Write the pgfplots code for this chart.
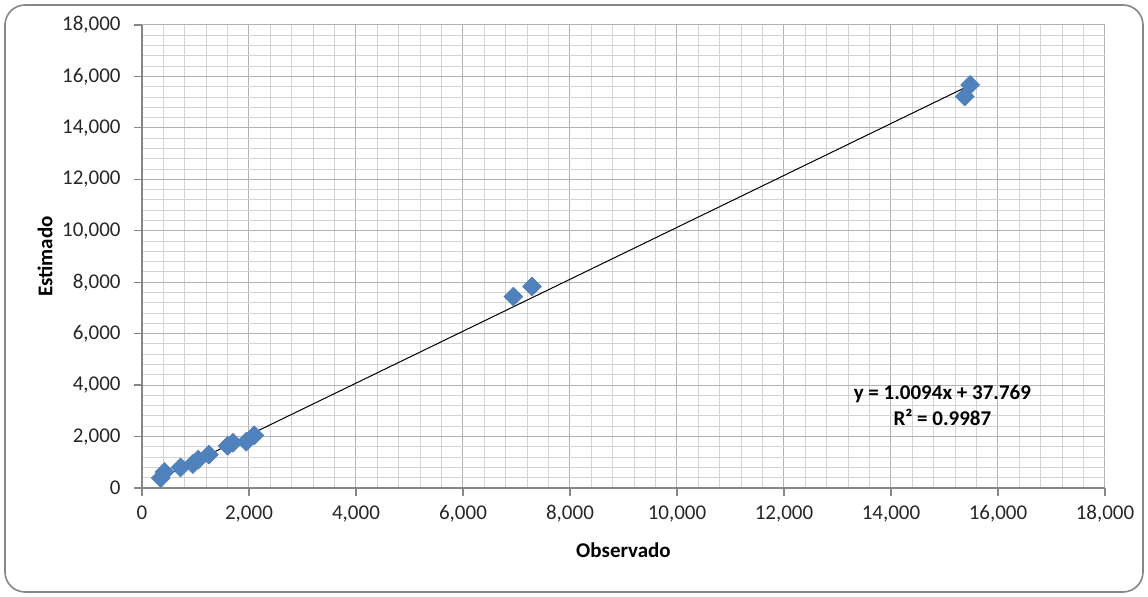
\documentclass[border=0pt]{standalone}
\usepackage{fontspec}
\setmainfont{Carlito}
\usepackage{pgfplots}
\pgfplotsset{compat=1.18}
\definecolor{mk}{RGB}{79,129,189}
\definecolor{frame}{RGB}{134,134,134}
\begin{document}
\fontsize{10.5pt}{12.6pt}\selectfont
\begin{tikzpicture}
\path[use as bounding box] (-71pt,-54.5pt) rectangle (503pt,244pt);
\draw[frame, line width=0.8pt, rounded corners=10pt] (-68.5pt,-52pt) rectangle (500.5pt,241.5pt);
\begin{axis}[
  at={(0,0)}, anchor=south west,
  scale only axis, width=481.5pt, height=231.5pt,
  xmin=0, xmax=18000, ymin=0, ymax=18000,
  xtick={0,2000,...,18000}, ytick={0,2000,...,18000},
  minor tick num=4,
  grid=both,
  major grid style={draw=gray!60, line width=0.5pt},
  minor grid style={draw=gray!35, line width=0.5pt},
  axis x line*=bottom, axis y line*=left,
  axis line style={draw=frame, line width=0.6pt},
  tick align=outside, major tick length=4pt, minor tick length=0pt,
  tick style={draw=frame, line width=0.6pt},
  scaled ticks=false,
  /pgf/number format/.cd, 1000 sep={,}, assume math mode=true, /pgfplots/.cd,
  ticklabel style={font=\fontsize{10.5pt}{12.6pt}\selectfont, text=black!85},
  label style={font=\fontsize{10.5pt}{12.6pt}\selectfont\bfseries},
  yticklabel style={xshift=-3pt},
  xticklabel style={yshift=-1pt},
  xlabel={Observado}, ylabel={Estimado},
  xlabel style={at={(axis description cs:0.5,-0.134)}, anchor=center},
  ylabel style={at={(axis description cs:-0.1007,0.5)}, anchor=center},
  clip=false,
]
\addplot[only marks, mark=square*, mark size=3.3pt,
  mark options={rotate=45, fill=mk, draw=mk}]
  coordinates {
  (350,390) (420,620) (720,800) (950,930) (1050,1100) (1250,1300)
  (1600,1640) (1700,1760) (1950,1800) (2100,2050)
  (6940,7440) (7290,7830) (15380,15220) (15480,15670)
  };
\addplot[black, line width=0.5pt] coordinates {(350,391.1) (15480,15663.3)};
\node[align=center, font=\fontsize{10.5pt}{12.6pt}\selectfont\bfseries, inner sep=1pt] at (axis cs:14960,3210)
  {y = 1.0094x + 37.769\\[0.5pt] R² = 0.9987};
\end{axis}
\end{tikzpicture}
\end{document}
